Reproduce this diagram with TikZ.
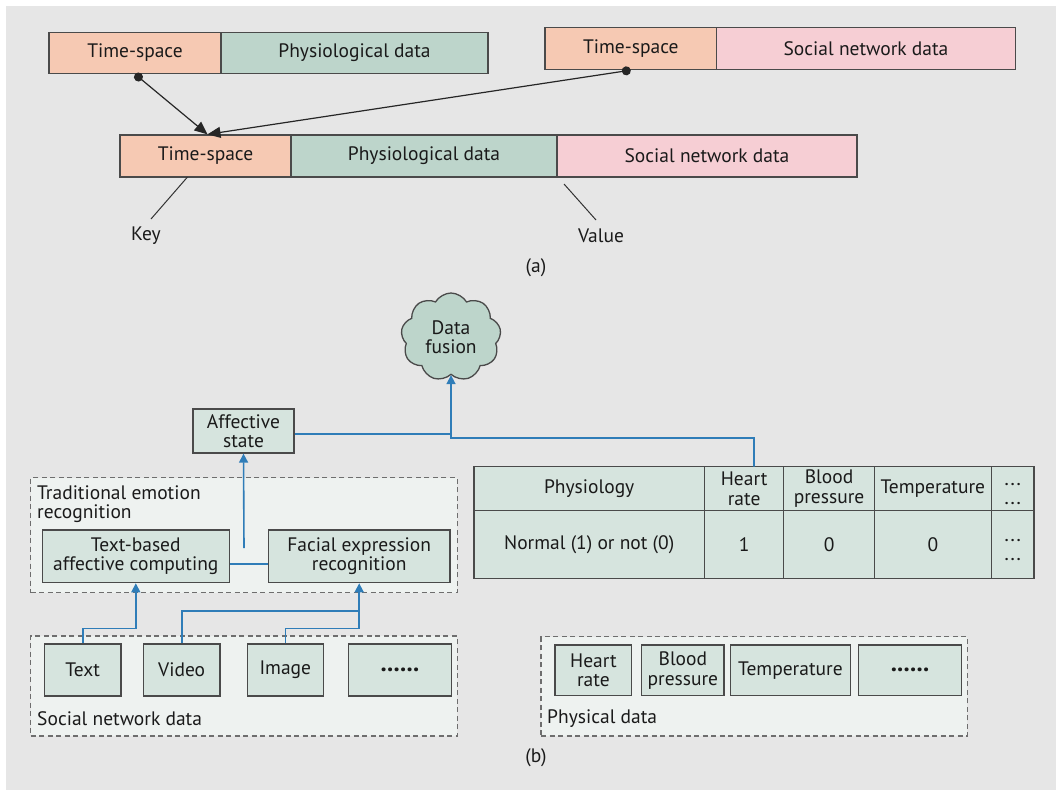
\documentclass[tikz,border=0pt]{standalone}
\usepackage{fontspec}
\setmainfont{PT Sans}
\usetikzlibrary{arrows.meta,shapes.symbols,calc}
\definecolor{bgc}{HTML}{E6E6E6}
\definecolor{salmon}{HTML}{F6C9B3}
\definecolor{teal}{HTML}{BDD5CB}
\definecolor{pinkc}{HTML}{F6CED4}
\definecolor{boxg}{HTML}{D6E4DE}
\definecolor{dashg}{HTML}{EEF2F0}
\definecolor{bluel}{HTML}{2F7DB8}
\definecolor{bord}{HTML}{4A4A4A}
\definecolor{txt}{HTML}{1A1A1A}
\newcommand{\bigdots}[1]{{\fontsize{25}{25}\selectfont\textbf{#1}}}
\newcommand{\sdots}{.\kern2.2pt.\kern2.2pt.}
\tikzset{
  fnt/.style={font=\fontsize{19.5}{19.5}\selectfont, text=txt},
  cell/.style={fnt, draw=bord, line width=1.3pt, inner sep=0pt, align=center},
  gbox/.style={cell, fill=boxg},
  dbox/.style={draw=bord!80, line width=1.2pt, dash pattern=on 5pt off 3.5pt, fill=dashg},
  lbl/.style={fnt, inner sep=0pt},
  dotl/.style={inner sep=0pt, text=txt, font=\fontsize{15}{15}\selectfont\bfseries, anchor=base},
  bl/.style={draw=bluel, line width=1.6pt},
  blarr/.style={bl, -{Triangle[length=9pt,width=9pt]}},
  blk/.style={draw=black!85, line width=1.2pt, {Circle[length=9pt]}-{Triangle[length=13pt,width=11pt]}},
  thin/.style={draw=black!80, line width=1pt}
}
\begin{document}
\begin{tikzpicture}[x=1pt,y=-1pt]
\useasboundingbox (0,0) rectangle (1056,790);
\fill[white] (0,0) rectangle (1056,790);
\fill[bgc] (6,6) rectangle (1056,790);

% ---------- (a) ----------
\node[cell, fill=salmon, minimum width=172pt, minimum height=41pt] (ts1) at (135,53) {Time-space};
\node[cell, fill=teal, minimum width=267pt, minimum height=41pt] (ph1) at (354.5,53) {Physiological data};
\node[cell, fill=salmon, minimum width=171.5pt, minimum height=42pt] (ts2) at (630.75,48.5) {Time-space};
\node[cell, fill=pinkc, minimum width=299pt, minimum height=42pt] (sn2) at (866,48.5) {Social network data};
\node[cell, fill=salmon, minimum width=171pt, minimum height=42pt] (ts3) at (205.5,156) {Time-space};
\node[cell, fill=teal, minimum width=266pt, minimum height=42pt] (ph3) at (424,156) {Physiological data};
\node[cell, fill=pinkc, minimum width=300pt, minimum height=42pt] (sn3) at (707,156) {Social network data};

\coordinate (tip) at ($(ts3.north)+(2,0)$);
\draw[blk] (ts1.south) -- (tip);
\draw[blk] (ts2.south) -- (tip);

\node[lbl] (key) at (146,236) {Key};
\node[lbl] (value) at (601,236) {Value};
\node[lbl] (a) at (536,268) {(a)};
\coordinate (k1) at (187.5,177);
\coordinate (k2) at (151,219);
\coordinate (v1) at (564,184);
\coordinate (v2) at (596,220);
\draw[thin] (k1) -- (k2);
\draw[thin] (v1) -- (v2);

% ---------- (b) ----------
\node[cloud, cloud puffs=9, cloud puff arc=120, aspect=1.15, draw=bord, line width=1.3pt,
      fill=teal, minimum width=100pt, minimum height=88pt, inner sep=0pt, align=center, fnt] (cloud) at (451,337) {Data\\fusion};

\node[gbox, minimum width=101pt, minimum height=44pt] (aff) at (243.5,431) {Affective\\state};

% traditional emotion recognition
\node[dbox, minimum width=426.6pt, minimum height=115pt, inner sep=0pt] (trad) at (244,535.2) {};
\node[lbl, anchor=west, align=left] (tradl) at (37,504) {Traditional emotion\\recognition};
\node[gbox, minimum width=187pt, minimum height=52.7pt] (tb) at (135.8,556.3) {Text-based\\affective computing};
\node[gbox, minimum width=181.7pt, minimum height=52.7pt] (fe) at (359.2,556.3) {Facial expression\\recognition};
\coordinate (lk) at (230,564);
\draw[bl] (tb.east |- lk) -- (fe.west |- lk);
\coordinate (t0) at (244,548);
\draw[blarr] (t0) -- (aff.south);

% social network data
\node[dbox, minimum width=426.6pt, minimum height=100pt, inner sep=0pt] (snd) at (244,686) {};
\node[lbl, anchor=west] (sndl) at (37,719) {Social network data};
\node[gbox, minimum width=76.7pt, minimum height=52pt] (text) at (82.7,670) {Text};
\node[gbox, minimum width=76.7pt, minimum height=52pt] (video) at (181.7,670) {Video};
\node[gbox, minimum width=76pt, minimum height=52pt] (image) at (285.3,670) {Image};
\node[gbox, minimum width=103.4pt, minimum height=52pt] (sdots) at (400,670) {\bigdots{......}};

\coordinate (r1) at (0,628.3);
\coordinate (r2) at (0,611);
\draw[blarr] (text.north) -- (text.north |- r1) -| (tb.south);
\draw[blarr] (video.north) -- (video.north |- r2) -| (fe.south);
\draw[bl] (image.north) -- (image.north |- r1) -| ($(fe.south)+(0,28)$);

% links to data fusion
\coordinate (j1) at (451,434);
\coordinate (j2) at (451,438);
\draw[bl] (aff.east |- j1) -- (j1);

% table
\node[gbox, minimum width=230.4pt, minimum height=44pt] (tphys) at (589.2,488.7) {Physiology};
\node[gbox, minimum width=79.4pt, minimum height=44pt] (thr) at (744.1,488.7) {Heart\\rate};
\node[gbox, minimum width=90.5pt, minimum height=44pt] (tbp) at (829.05,488.7) {Blood\\pressure};
\node[gbox, minimum width=117.1pt, minimum height=44pt] (ttemp) at (932.85,488.7) {Temperature};
\node[gbox, minimum width=42.6pt, minimum height=44pt] (tdots) at (1012.7,488.7) {};
\node[dotl] (td1) at (1012.7,485) {\sdots};
\node[dotl] (td2) at (1012.7,504) {\sdots};
\node[gbox, minimum width=230.4pt, minimum height=67.6pt] (nphys) at (589.2,544.5) {Normal (1) or not (0)};
\node[gbox, minimum width=79.4pt, minimum height=67.6pt] (nhr) at (744.1,544.5) {1};
\node[gbox, minimum width=90.5pt, minimum height=67.6pt] (nbp) at (829.05,544.5) {0};
\node[gbox, minimum width=117.1pt, minimum height=67.6pt] (ntemp) at (932.85,544.5) {0};
\node[gbox, minimum width=42.6pt, minimum height=67.6pt] (ndots) at (1012.7,544.5) {};
\node[dotl] (nd1) at (1012.7,541) {\sdots};
\node[dotl] (nd2) at (1012.7,560) {\sdots};

\coordinate (hrt) at (754,466.7);
\draw[blarr] (hrt) -- (hrt |- j2) -- (j2) -- (cloud.south);

% physical data
\node[dbox, minimum width=426.4pt, minimum height=99.3pt, inner sep=0pt] (phd) at (754.2,686.35) {};
\node[lbl, anchor=west] (phdl) at (547,719) {Physical data};
\node[gbox, minimum width=76.8pt, minimum height=50.7pt] (phr) at (593.4,670.3) {Heart\\rate};
\node[gbox, minimum width=82.3pt, minimum height=50.7pt] (pbp) at (682.85,670.3) {Blood\\pressure};
\node[gbox, minimum width=119.7pt, minimum height=50.7pt] (ptemp) at (790.45,670.3) {Temperature};
\node[gbox, minimum width=103.4pt, minimum height=50.7pt] (pdots) at (910,670.3) {\bigdots{......}};

\node[lbl] (b) at (536,758) {(b)};
\end{tikzpicture}
\end{document}
